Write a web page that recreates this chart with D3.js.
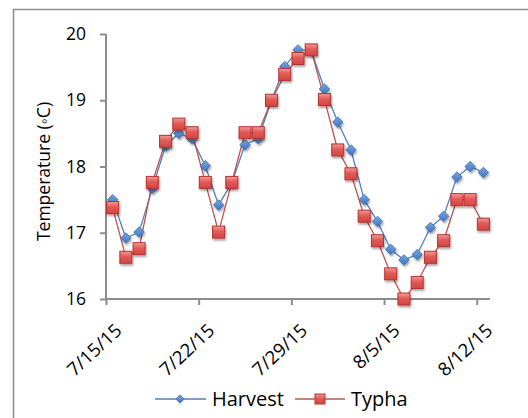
<!DOCTYPE html>
<html>
<head>
<meta charset="utf-8">
<script src="https://cdn.jsdelivr.net/npm/d3@7"></script>
<style>
  body { margin: 0; background: #fff; }
  text { font-family: "Open Sans", "Noto Sans", sans-serif; fill: #000; }
</style>
</head>
<body>
<svg id="chart"></svg>
<script>
// Data
var dates = ["2015-07-15","2015-07-16","2015-07-17","2015-07-18","2015-07-19","2015-07-20","2015-07-21",
  "2015-07-22","2015-07-23","2015-07-24","2015-07-25","2015-07-26","2015-07-27","2015-07-28",
  "2015-07-29","2015-07-30","2015-07-31","2015-08-01","2015-08-02","2015-08-03","2015-08-04",
  "2015-08-05","2015-08-06","2015-08-07","2015-08-08","2015-08-09","2015-08-10","2015-08-11","2015-08-12"];
var harvest = [17.50,16.92,17.01,17.67,18.31,18.50,18.42,18.01,17.42,17.75,18.33,18.42,19.00,19.51,
  19.76,19.75,19.17,18.67,18.25,17.50,17.17,16.75,16.59,16.67,17.08,17.25,17.84,18.00,17.91];
var typha = [17.38,16.63,16.76,17.76,18.38,18.64,18.51,17.76,17.01,17.76,18.51,18.51,19.00,19.39,
  19.63,19.76,19.01,18.25,17.89,17.25,16.88,16.38,16.00,16.25,16.63,16.88,17.50,17.50,17.13];
var xTicks = ["2015-07-15","2015-07-22","2015-07-29","2015-08-05","2015-08-12"];
var yTicks = [16,17,18,19,20];

var width = 528, height = 418;
var plotL = 106, plotR = 490, plotT = 34, plotB = 299;
var parseDate = d3.timeParse("%Y-%m-%d");
var fmt = d3.timeFormat("%-m/%-d/%y");

var svg = d3.select("#chart").attr("width", width).attr("height", height);

var defs = svg.append("defs");
var sh = defs.append("filter").attr("id", "shadow")
    .attr("x", "-50%").attr("y", "-50%").attr("width", "200%").attr("height", "200%");
sh.append("feDropShadow").attr("dx", 1).attr("dy", 2).attr("stdDeviation", 1.3)
    .attr("flood-color", "#000").attr("flood-opacity", 0.35);
var gr = defs.append("linearGradient").attr("id", "redfill").attr("x1", 0).attr("y1", 0).attr("x2", 0).attr("y2", 1);
gr.append("stop").attr("offset", "0%").attr("stop-color", "#f39b98");
gr.append("stop").attr("offset", "45%").attr("stop-color", "#e05a57");
gr.append("stop").attr("offset", "100%").attr("stop-color", "#d24643");
var gb = defs.append("linearGradient").attr("id", "bluefill").attr("x1", 0).attr("y1", 0).attr("x2", 0).attr("y2", 1);
gb.append("stop").attr("offset", "0%").attr("stop-color", "#7aa6de");
gb.append("stop").attr("offset", "100%").attr("stop-color", "#3f74bf");

// Outer chart border (runs past right and bottom edges)
svg.append("rect").attr("x", 13.5).attr("y", 9.5).attr("width", 600).attr("height", 600)
    .attr("fill", "none").attr("stroke", "#8c8c8c").attr("stroke-width", 1.5);

// Scales
var x = d3.scaleTime()
    .domain([parseDate("2015-07-15"), parseDate("2015-08-13")])
    .range([plotL, plotR]);
var dayW = x(parseDate("2015-07-16")) - x(parseDate("2015-07-15"));
var y = d3.scaleLinear().domain([16, 20]).range([plotB, plotT]);

// Axes
var gx = svg.append("g").attr("transform", "translate(0," + plotB + ")")
    .call(d3.axisBottom(x).tickValues(xTicks.map(parseDate)).tickSize(6).tickFormat(""));
gx.select(".domain").attr("d", "M" + plotL + ",0H" + plotR);
gx.selectAll("line, path").attr("stroke", "#8c8c8c").attr("stroke-width", 2);

var gy = svg.append("g").attr("transform", "translate(" + plotL + ",0)")
    .call(d3.axisLeft(y).tickValues(yTicks).tickSize(6).tickFormat(""));
gy.select(".domain").attr("d", "M0," + plotT + "V" + plotB);
gy.selectAll("line, path").attr("stroke", "#8c8c8c").attr("stroke-width", 2);

svg.selectAll(".ylab").data(yTicks).enter().append("text")
    .attr("x", plotL - 20).attr("y", function(d) { return y(d) + 6; })
    .attr("text-anchor", "end").attr("font-size", 17.5)
    .text(function(d) { return d; });

svg.selectAll(".xlab").data(xTicks).enter().append("text")
    .attr("text-anchor", "end").attr("font-size", 18.5)
    .attr("transform", function(d) {
      return "translate(" + (x(parseDate(d)) + 17) + "," + (plotB + 33) + ") rotate(-43)";
    })
    .text(function(d) { return fmt(parseDate(d)); });

svg.append("text")
    .attr("transform", "translate(50," + ((plotT + plotB) / 2 + 5) + ") rotate(-90)")
    .attr("text-anchor", "middle").attr("font-size", 17.5)
    .text("Temperature (\u25E6C)");

// Series
var px = function(d, i) { return x(parseDate(dates[i])) + dayW / 2; };
var line = d3.line().x(px).y(function(d) { return y(d); });

svg.append("path").datum(harvest).attr("d", line)
    .attr("fill", "none").attr("stroke", "#4f81bd").attr("stroke-width", 1.3);
svg.append("path").datum(typha).attr("d", line)
    .attr("fill", "none").attr("stroke", "#c0504d").attr("stroke-width", 1.3);

var diamond = d3.symbol().type(d3.symbolDiamond2).size(70);
function drawDiamond(sel) {
  sel.append("path").attr("d", diamond)
    .attr("fill", "url(#bluefill)").attr("stroke", "#3a6bb0").attr("stroke-width", 0.8)
    .attr("filter", "url(#shadow)");
}
function drawSquare(sel) {
  sel.append("rect").attr("x", -6).attr("y", -6).attr("width", 12).attr("height", 12)
    .attr("fill", "url(#redfill)").attr("stroke", "#b8312e").attr("stroke-width", 1)
    .attr("filter", "url(#shadow)");
}

svg.selectAll(".hpt").data(harvest).enter().append("g")
    .attr("transform", function(d, i) { return "translate(" + px(d, i) + "," + y(d) + ")"; })
    .call(drawDiamond);
svg.selectAll(".tpt").data(typha).enter().append("g")
    .attr("transform", function(d, i) { return "translate(" + px(d, i) + "," + y(d) + ")"; })
    .call(drawSquare);

// Legend
var ly = 399;
var leg = svg.append("g");
leg.append("line").attr("x1", 155).attr("x2", 206).attr("y1", ly).attr("y2", ly)
    .attr("stroke", "#4f81bd").attr("stroke-width", 1.3);
leg.append("path").attr("transform", "translate(180," + ly + ")")
    .attr("d", d3.symbol().type(d3.symbolDiamond2).size(45))
    .attr("fill", "url(#bluefill)").attr("stroke", "#3a6bb0").attr("stroke-width", 0.8);
leg.append("text").attr("x", 212).attr("y", ly + 7).attr("font-size", 20).text("Harvest");
leg.append("line").attr("x1", 295).attr("x2", 345).attr("y1", ly).attr("y2", ly)
    .attr("stroke", "#c0504d").attr("stroke-width", 1.3);
leg.append("rect").attr("x", 315).attr("y", ly - 5).attr("width", 10).attr("height", 10)
    .attr("fill", "url(#redfill)").attr("stroke", "#b8312e").attr("stroke-width", 1);
leg.append("text").attr("x", 351).attr("y", ly + 7).attr("font-size", 20).text("Typha");
</script>
</body>
</html>
